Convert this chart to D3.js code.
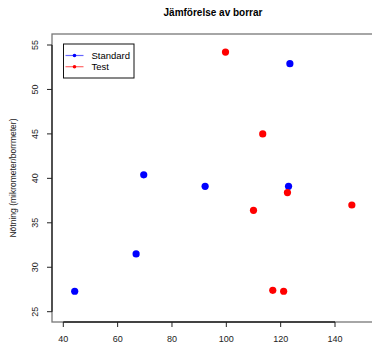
<!DOCTYPE html>
<html lang="sv">
<head>
  <meta charset="UTF-8">
  <title>Jämförelse av borrar</title>
  <style type="text/css">
    body{
      margin: 0;
      background: white;
      font-family: "Liberation Sans", Arial, sans-serif;
    }
    .title{
      font-size: 10px;
      font-weight: bold;
      fill: black;
    }
    .tick-label{
      font-size: 9px;
      fill: #222;
    }
    .ylab{
      font-size: 8.5px;
      fill: #222;
    }
    .legend text{
      font-size: 9.5px;
      fill: black;
    }
  </style>
  <script type="text/javascript" src="https://d3js.org/d3.v7.min.js"></script>
</head>
<body>
<script type="text/javascript">
  // data
  var standardX = [44.2, 66.8, 69.6, 92.2, 122.9, 123.4];
  var standardY = [27.3, 31.5, 40.4, 39.1, 39.1, 52.9];
  var testX = [99.7, 113.4, 110.0, 122.5, 146.2, 117.1, 121.1];
  var testY = [54.2, 45.0, 36.4, 38.4, 37.0, 27.4, 27.3];
  var xTicks = [40, 60, 80, 100, 120, 140];
  var yTicks = [25, 30, 35, 40, 45, 50, 55];
  var seriesNames = ['Standard', 'Test'];
  var seriesColors = ['#0000ff', '#ff0000'];

  var W = 372, H = 343;
  var box = {left: 52, top: 34, right: 392, bottom: 322};

  var svg = d3.select('body')
    .append('svg')
    .attr('width', W)
    .attr('height', H);

  var xScale = d3.scaleLinear().domain([40, 140]).range([63.3, 335]);
  var yScale = d3.scaleLinear().domain([25, 55]).range([311.7, 45]);

  // grey frame
  svg.append('rect')
    .attr('x', box.left)
    .attr('y', box.top)
    .attr('width', box.right - box.left)
    .attr('height', box.bottom - box.top)
    .attr('fill', 'none')
    .attr('stroke', '#777')
    .attr('stroke-width', 1.3);

  // x axis
  var xAxis = svg.append('g').attr('class', 'x axis');
  xAxis.append('line')
    .attr('x1', xScale(40)).attr('x2', xScale(140))
    .attr('y1', box.bottom).attr('y2', box.bottom)
    .attr('stroke', '#222').attr('stroke-width', 1.3);
  xAxis.selectAll('.tk')
    .data(xTicks)
    .enter().append('line')
    .attr('x1', function(d){ return xScale(d); })
    .attr('x2', function(d){ return xScale(d); })
    .attr('y1', box.bottom).attr('y2', box.bottom + 5)
    .attr('stroke', '#222');
  xAxis.selectAll('text')
    .data(xTicks)
    .enter().append('text')
    .attr('class', 'tick-label')
    .attr('x', function(d){ return xScale(d); })
    .attr('y', 342)
    .attr('text-anchor', 'middle')
    .text(function(d){ return d; });

  // y axis
  var yAxis = svg.append('g').attr('class', 'y axis');
  yAxis.append('line')
    .attr('x1', box.left).attr('x2', box.left)
    .attr('y1', yScale(25)).attr('y2', yScale(55))
    .attr('stroke', '#222').attr('stroke-width', 1.3);
  yAxis.selectAll('.tk')
    .data(yTicks)
    .enter().append('line')
    .attr('x1', box.left - 5).attr('x2', box.left)
    .attr('y1', function(d){ return yScale(d); })
    .attr('y2', function(d){ return yScale(d); })
    .attr('stroke', '#222');
  yAxis.selectAll('text')
    .data(yTicks)
    .enter().append('text')
    .attr('class', 'tick-label')
    .attr('transform', function(d){ return 'translate(38,' + yScale(d) + ') rotate(-90)'; })
    .attr('text-anchor', 'middle')
    .text(function(d){ return d; });

  svg.append('text')
    .attr('class', 'ylab')
    .attr('transform', 'translate(16,' + (box.top + box.bottom) / 2 + ') rotate(-90)')
    .attr('text-anchor', 'middle')
    .text('Nötning (mikrometer/borrmeter)');

  svg.append('text')
    .attr('class', 'title')
    .attr('x', 213)
    .attr('y', 16)
    .attr('text-anchor', 'middle')
    .text('Jämförelse av borrar');

  // points
  var std = standardX.map(function(x, i){ return {x: x, y: standardY[i]}; });
  var tst = testX.map(function(x, i){ return {x: x, y: testY[i]}; });

  svg.selectAll('.std')
    .data(std)
    .enter().append('circle')
    .attr('class', 'std')
    .attr('cx', function(d){ return xScale(d.x); })
    .attr('cy', function(d){ return yScale(d.y); })
    .attr('r', 3.6)
    .style('fill', seriesColors[0]);

  svg.selectAll('.tst')
    .data(tst)
    .enter().append('circle')
    .attr('class', 'tst')
    .attr('cx', function(d){ return xScale(d.x); })
    .attr('cy', function(d){ return yScale(d.y); })
    .attr('r', 3.6)
    .style('fill', seriesColors[1]);

  // legend
  var legend = svg.append('g').attr('class', 'legend');
  legend.append('rect')
    .attr('x', 63.5).attr('y', 44)
    .attr('width', 70.5).attr('height', 34)
    .attr('fill', 'white')
    .attr('stroke', '#111')
    .attr('stroke-width', 1);

  var item = legend.selectAll('.item')
    .data(seriesNames)
    .enter().append('g')
    .attr('class', 'item')
    .attr('transform', function(d, i){ return 'translate(0,' + (55.5 + i * 11.2) + ')'; });

  item.append('line')
    .attr('x1', 65.5).attr('x2', 83.5)
    .attr('y1', 0).attr('y2', 0)
    .attr('stroke', function(d, i){ return seriesColors[i]; })
    .attr('stroke-opacity', 0.6)
    .attr('stroke-width', 1.2);
  item.append('circle')
    .attr('cx', 74.5).attr('cy', 0)
    .attr('r', 1.8)
    .style('fill', function(d, i){ return seriesColors[i]; });
  item.append('text')
    .attr('x', 91.5)
    .attr('y', 3.4)
    .text(function(d){ return d; });
</script>
</body>
</html>
